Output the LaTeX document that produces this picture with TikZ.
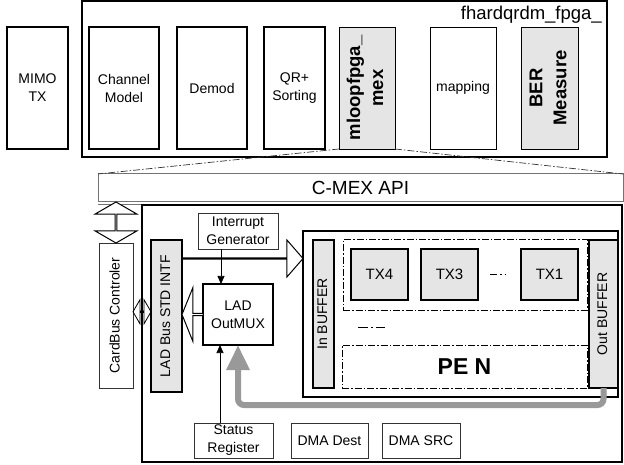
\documentclass[tikz,border=0pt]{standalone}
\usepackage{fontspec}
\setmainfont{Liberation Sans}
\usepackage{graphicx}
\usetikzlibrary{arrows.meta,calc,shapes.arrows}

\newcommand{\vlab}[1]{\rotatebox{90}{\begin{tabular}{@{}c@{}}#1\end{tabular}}}

\begin{document}
\begin{tikzpicture}[x=1pt, y=-1pt,
  blk/.style={draw, line width=1.3pt, inner sep=0pt, outer sep=0pt,
    anchor=north west, align=center, font=\fontsize{14}{18}\selectfont},
  lite/.style={blk, line width=0.8pt},
  graybox/.style={blk, fill=black!10},
  ddline/.style={line width=1pt, dash pattern=on 7pt off 2pt on 1.5pt off 2pt},
  hollow/.style={draw, line width=1pt, inner sep=0pt, outer sep=0pt, fill=white},
  tinyarr/.style={line width=0.7pt, -{Triangle[length=8pt, width=7pt]}},
  backarr/.style={line width=6pt, draw=black!40, rounded corners=6pt,
    -{Triangle[length=25pt, width=22pt]}},
]
\useasboundingbox (0,0) rectangle (624,465);

% host side
\node[blk, minimum width=61, minimum height=122] (mimo) at (7,27) {MIMO\\TX};
\node[blk, line width=1.5pt, minimum width=525, minimum height=156] (fpga) at (82,1) {};
\node[anchor=base east, inner sep=0pt, font=\fontsize{18.5}{22}\selectfont]
  (fpgalbl) at (602,20) {fhardqrdm\_fpga\_};
\node[blk, minimum width=70, minimum height=122] (chan) at (89,27) {Channel\\Model};
\node[blk, minimum width=70, minimum height=122] (demod) at (177,27) {Demod};
\node[blk, minimum width=61, minimum height=122] (qr) at (264,27) {QR+\\Sorting};
\node[graybox, line width=0.8pt, minimum width=56, minimum height=122] (mloop) at (339,27)
  {\bfseries\fontsize{18.5}{23}\selectfont\vlab{mloopfpga\_\\mex}};
\node[lite, minimum width=66, minimum height=122] (mapping) at (430,27) {mapping};
\node[graybox, line width=0.8pt, minimum width=57, minimum height=122] (ber) at (521,27)
  {\bfseries\fontsize{18.5}{24}\selectfont\vlab{BER\\Measure}};

% api
\node[blk, draw=black!55, line width=1pt, minimum width=525, minimum height=28,
  font=\fontsize{19}{22}\selectfont] (cmex) at (98,174) {C-MEX API};
\draw[black!55, line width=1pt] ([yshift=-2.5pt]cmex.south west) -- ([yshift=-2.5pt]cmex.south east);
\draw[ddline, line width=0.7pt, black!80] (mloop.south west) -- (cmex.north west);
\draw[ddline, line width=0.7pt, black!80] (mloop.south east) -- (cmex.north east);

% board
\node[blk, minimum width=480, minimum height=257] (board) at (142,205) {};
\node[lite, draw=black!80, minimum width=34, minimum height=145] (cardbus) at (99,243)
  {\vlab{CardBus Controler}};
\node[graybox, line width=1.1pt, minimum width=31, minimum height=152] (ladbus) at (151,240)
  {\vlab{LAD Bus STD INTF}};
\node[lite, draw=black!80, minimum width=80, minimum height=36] (intr) at (198,213)
  {Interrupt\\Generator};
\node[blk, line width=1.1pt, minimum width=70, minimum height=61] (lad) at (203,284)
  {LAD\\OutMUX};
\node[blk, line width=1.1pt, minimum width=315, minimum height=166] (pearray) at (303,231) {};
\node[graybox, line width=1.1pt, minimum width=21, minimum height=148] (inbuf) at (313,240)
  {\vlab{In BUFFER}};
\node[graybox, line width=1.1pt, minimum width=29, minimum height=148] (outbuf) at (589,240)
  {\vlab{Out BUFFER}};
\node[blk, ddline, minimum width=244, minimum height=70] (txgrp) at (343,240) {};
\node[graybox, line width=1.1pt, minimum width=57, minimum height=51, font=\fontsize{15}{18}\selectfont]
  (tx4) at (351,249) {TX4};
\node[graybox, line width=1.1pt, minimum width=57, minimum height=51, font=\fontsize{15}{18}\selectfont]
  (tx3) at (421,249) {TX3};
\node[graybox, line width=1.1pt, minimum width=57, minimum height=51, font=\fontsize{15}{18}\selectfont]
  (tx1) at (521,249) {TX1};
\draw[line width=1pt, dash pattern=on 7pt off 3pt on 1.5pt off 3pt on 1.5pt off 10pt]
  ([xshift=12pt]tx3.east) -- ([xshift=29pt]tx3.east);
\draw[line width=1pt, dash pattern=on 10pt off 3pt on 1.5pt off 3pt] (358,327) -- (385,327);
\node[blk, ddline, minimum width=245, minimum height=43,
  font=\bfseries\fontsize{23}{26}\selectfont] (pen) at (342,345) {PE N};
\node[lite, draw=black!80, minimum width=79, minimum height=35] (status) at (194,423)
  {Status\\Register};
\node[lite, draw=black!80, minimum width=77, minimum height=35] (dmadst) at (291,423) {DMA Dest};
\node[lite, draw=black!80, minimum width=78, minimum height=35] (dmasrc) at (382,423) {DMA SRC};

% bus arrows
\node[hollow, double arrow, rotate=90, minimum height=41, minimum width=42,
  double arrow head extend=12, double arrow tip angle=120]
  (apiarr) at ($(cmex.south -| cardbus.north)!0.5!(cardbus.north)$) {};
\node[draw, line width=0.8pt, inner sep=0pt, double arrow, minimum height=18, minimum width=24,
  double arrow head extend=7, double arrow tip angle=120]
  (intfarr) at ($(cardbus.east)!0.5!(ladbus.west)+(0,-4)$) {};
\coordinate (bustail) at (ladbus.east |- 0,258.5);
\node[hollow, single arrow, minimum height=121, minimum width=37,
  single arrow head extend=13, single arrow tip angle=98, anchor=tail]
  (busarr) at (bustail) {};
\node[hollow, single arrow, rotate=180, minimum height=21, minimum width=54,
  single arrow head extend=12, single arrow tip angle=136, anchor=tail]
  (muxarr) at (lad.west) {};

% control
\coordinate (irq) at ([xshift=-17pt]lad.north);
\draw[tinyarr] (intr.south -| irq) -- (irq);
\coordinate (srq) at ([xshift=-18pt]lad.south);
\draw[tinyarr] (status.north -| srq) -- (srq);
\draw[backarr] (outbuf.south) -- ++(0,17) -| (lad.south);
\end{tikzpicture}
\end{document}
